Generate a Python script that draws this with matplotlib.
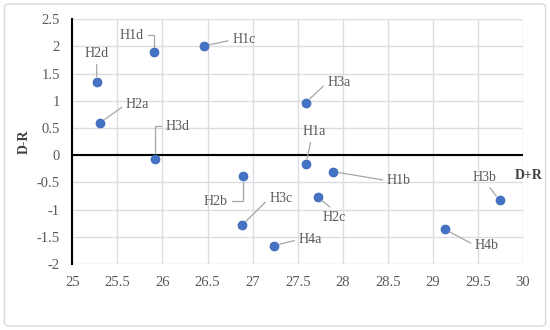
import matplotlib.pyplot as plt
from matplotlib.patches import FancyBboxPatch

plt.rcParams['font.family'] = ['Liberation Serif', 'DejaVu Serif']

# data
names = ['H2d', 'H2a', 'H1d', 'H1c', 'H3d', 'H3a', 'H1a',
         'H1b', 'H2c', 'H3b', 'H4b', 'H4a', 'H3c', 'H2b']
dr_sum = [25.27, 25.31, 25.91, 26.46, 25.92, 27.59, 27.59,
          27.89, 27.72, 29.74, 29.13, 27.24, 26.88, 26.89]
dr_diff = [1.35, 0.60, 1.89, 2.01, -0.07, 0.97, -0.16,
           -0.30, -0.77, -0.83, -1.36, -1.66, -1.29, -0.39]

# label placement (offset in pixels, leader anchor on label)
offsets = [(0, 28), (37, 18), (-23, 17), (40, 6), (22, 33), (33, 20), (8, 32),
           (66, -9), (17, -20), (-15, 23), (42, -16), (36, 6), (39, 27), (-27, -25)]
anchors = [(0.5, 0), (0, 0.5), (1, 0.5), (0, 0.5), (0, 0.5), (0, 0.5), (0.4, 0),
           (0, 0.5), (0.5, 1), (0.6, 0), (0, 0.5), (0, 0.5), (0, 0.5), (1, 0.5)]
conn = ['arc3', 'arc3', 'angle,angleA=0,angleB=90,rad=0', 'arc3',
        'angle,angleA=0,angleB=90,rad=0', 'arc3', 'arc3', 'arc3', 'arc3',
        'arc3', 'arc3', 'arc3', 'arc3', 'angle,angleA=0,angleB=90,rad=0']

fig = plt.figure(figsize=(5.5, 3.3), dpi=100)
fig.patches.append(FancyBboxPatch((0.008, 0.012), 0.984, 0.976,
                                  boxstyle='round,pad=0,rounding_size=0.01',
                                  transform=fig.transFigure, fill=False,
                                  edgecolor='#d9d9d9', linewidth=1))
ax = fig.add_axes([0.1315, 0.2, 0.8195, 0.7415])

ax.set_xlim(25, 30)
ax.set_ylim(-2, 2.5)
ax.set_xticks([25 + 0.5 * i for i in range(11)])
ax.set_yticks([-2 + 0.5 * i for i in range(10)])
ax.xaxis.set_major_formatter(lambda v, p: f'{v:g}')
ax.yaxis.set_major_formatter(lambda v, p: f'{v:g}')
ax.grid(True, color='#dcdde2', linewidth=1)
ax.set_axisbelow(True)
ax.tick_params(length=0, labelsize=10.5, labelcolor='#595959', pad=9)
for s in ['top', 'right', 'bottom']:
    ax.spines[s].set_visible(False)
ax.spines['left'].set_color('black')
ax.spines['left'].set_linewidth(1.5)
ax.axhline(0, color='black', linewidth=1.5, zorder=2)

ax.scatter(dr_sum, dr_diff, s=42, color='#4472c4', edgecolor='#3a64b0',
           linewidth=0.5, zorder=3)

for i, n in enumerate(names):
    ax.annotate(n, (dr_sum[i], dr_diff[i]), xytext=offsets[i],
                textcoords='offset pixels', ha='center', va='center',
                fontsize=10, color='#595959',
                arrowprops=dict(arrowstyle='-', color='#a6a6a6', lw=0.9,
                                relpos=anchors[i], connectionstyle=conn[i],
                                shrinkA=1, shrinkB=4))

ax.set_ylabel('D-R', fontsize=10, fontweight='bold', color='#404040')
ax.yaxis.set_label_coords(-0.092, 0.5)
ax.text(1.013, 0.362, 'D+R', transform=ax.transAxes, ha='center', va='center',
        fontsize=10, fontweight='bold', color='#404040')

fig.savefig('out.png', dpi=100)
